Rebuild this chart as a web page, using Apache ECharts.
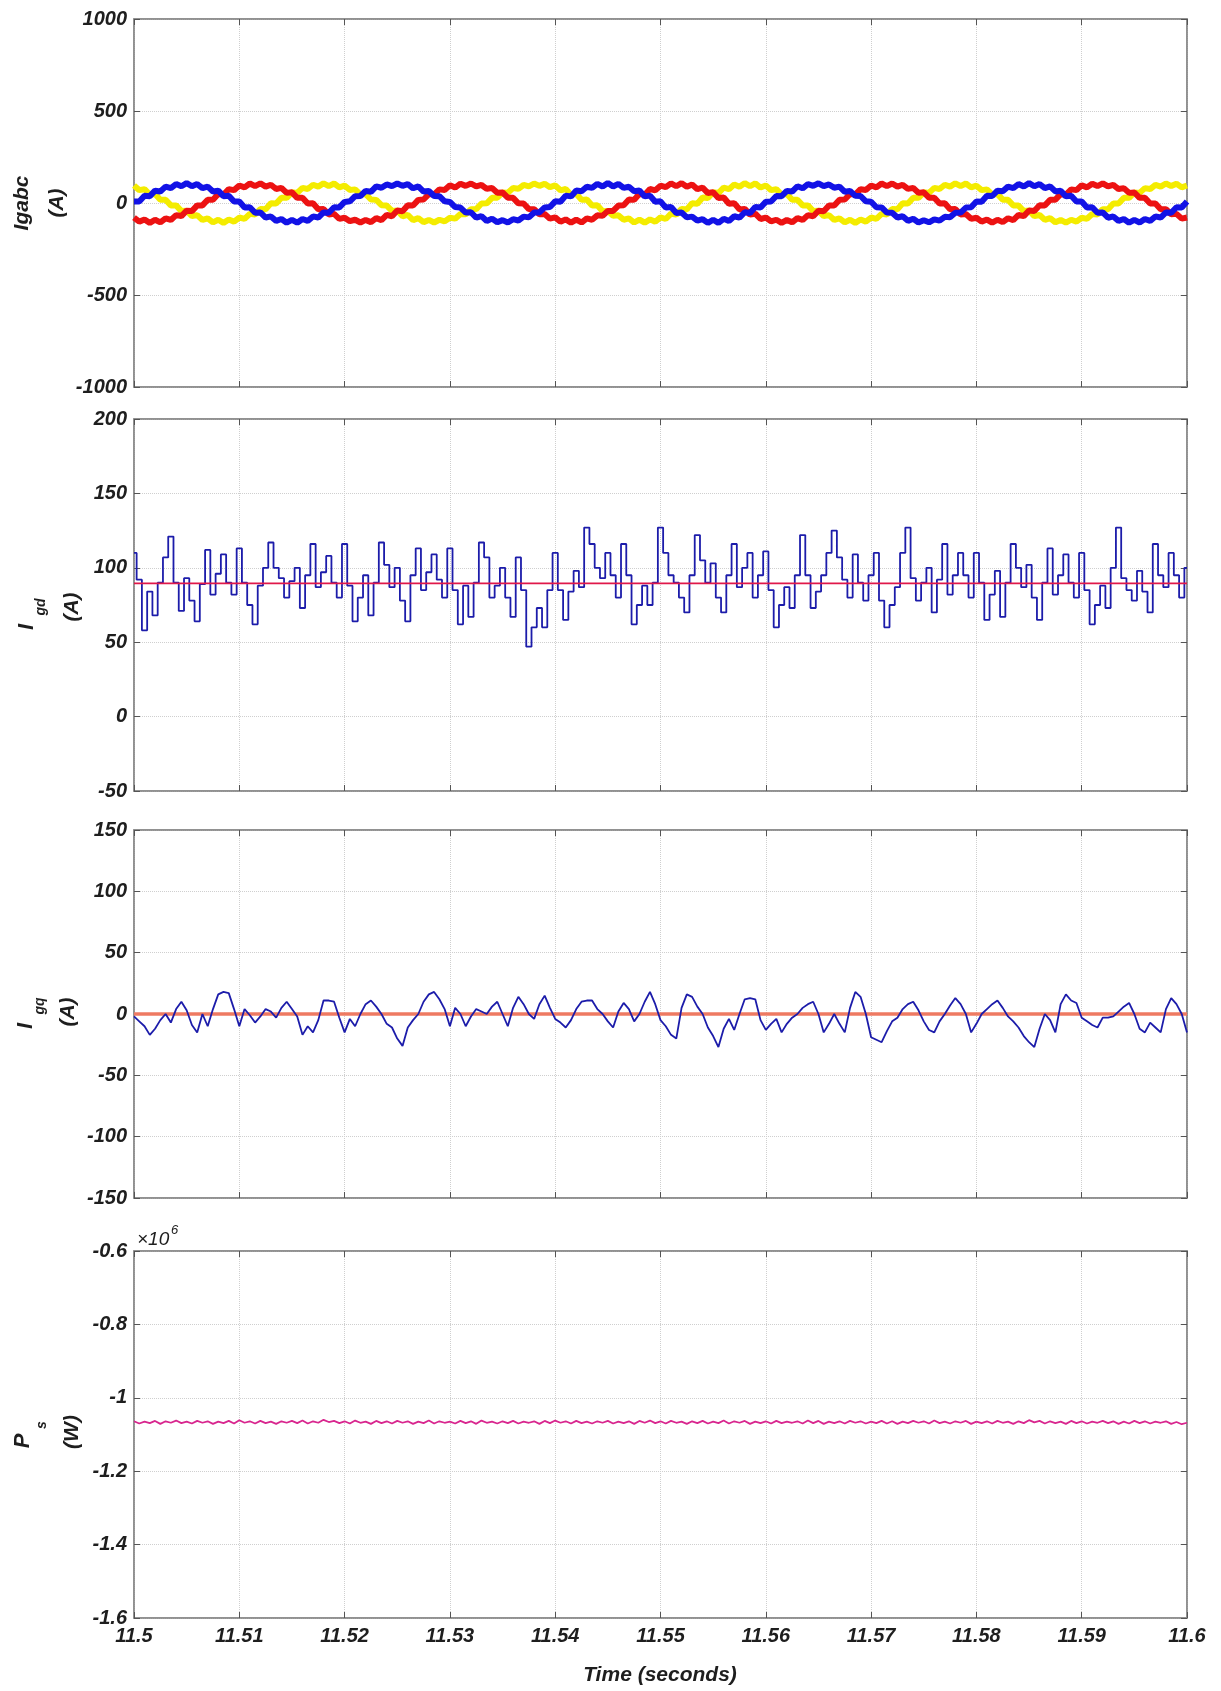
<!DOCTYPE html>
<html><head><meta charset="utf-8">
<script src="https://cdn.jsdelivr.net/npm/echarts/dist/echarts.min.js"></script>
<style>html,body{margin:0;padding:0;background:#fff}#c{width:1221px;height:1691px}</style>
</head><body><div id="c"></div>
<script>
// Time base: 11.5 s .. 11.6 s, samples every 0.5 ms (x values in ms)
const T0 = 11500, DT = 0.5;
const xTickLabels = ['11.5','11.51','11.52','11.53','11.54','11.55','11.56','11.57','11.58','11.59','11.6'];

// Panel 1: Igabc (A)
const igA = [ // red phase
-79,-101,-90,-108,-91,-105,-83,-92,-66,-71,-42,-44,-13,-13,18,18,49,46,75,70,95,85,106,92,107,89,99,76,82,55,58,28,29,-3,-2,-34,-33,-62,-59,-86,
-80,-99,-91,-106,-92,-104,-82,-93,-65,-72,-41,-45,-12,-14,17,19,48,47,74,71,96,84,105,93,106,90,98,77,81,56,57,29,28,-2,-3,-33,-34,-61,-60,-85,
-78,-102,-89,-107,-90,-106,-84,-91,-67,-70,-43,-43,-14,-12,19,17,50,45,76,69,94,86,107,91,108,88,100,75,83,54,59,27,30,-4,-1,-35,-32,-63,-58,-87,
-79,-100,-91,-108,-92,-105,-82,-92,-66,-72,-42,-45,-13,-14,18,19,49,47,75,71,95,85,106,92,106,89,99,77,82,55,58,29,29,-3,-2,-34,-33,-62,-60,-86,
-80,-101,-90,-107,-91,-104,-83,-93,-65,-71,-41,-44,-12,-13,17,18,48,46,74,70,96,85,105,92,107,90,98,76,81,55,57,28,28,-3,-3,-34,-34,-61,-59,-85,
-79];
const igB = [ // yellow phase
95,70,75,46,49,18,18,-13,-13,-44,-42,-71,-66,-92,-83,-105,-91,-108,-90,-101,-79,-86,-59,-62,-33,-34,-2,-3,29,28,58,55,82,76,99,89,107,92,106,85,
94,71,74,47,48,19,17,-12,-14,-43,-41,-72,-65,-93,-82,-104,-92,-106,-91,-100,-80,-85,-60,-61,-34,-33,-3,-2,28,29,57,56,81,77,98,90,106,93,105,86,
96,69,76,45,50,17,19,-14,-12,-45,-43,-70,-67,-91,-84,-106,-90,-107,-89,-102,-78,-87,-58,-63,-32,-35,-1,-4,30,27,59,54,83,75,100,88,108,91,107,84,
95,70,75,46,49,18,18,-13,-13,-44,-42,-71,-66,-92,-83,-105,-91,-108,-90,-101,-79,-86,-59,-62,-33,-34,-2,-3,29,28,58,55,82,76,99,89,107,92,106,85,
94,70,74,47,48,18,17,-13,-14,-44,-41,-71,-65,-92,-82,-105,-92,-107,-91,-101,-80,-86,-60,-62,-34,-34,-3,-3,28,28,57,55,81,76,98,89,106,92,105,85,
95];
const igC = [ // blue phase
8,8,39,37,67,63,89,81,103,91,108,91,103,81,89,63,67,37,39,8,8,-24,-23,-53,-51,-79,-73,-97,-87,-107,-92,-107,-87,-97,-73,-79,-51,-53,-23,-24,
6,9,37,38,66,61,90,83,101,92,106,93,102,80,90,62,65,38,37,9,6,-22,-25,-52,-50,-80,-71,-98,-85,-105,-93,-106,-88,-95,-74,-78,-52,-51,-24,-22,
9,7,40,36,68,64,88,82,104,90,109,90,104,82,88,64,68,36,40,7,9,-25,-22,-54,-52,-78,-74,-96,-88,-108,-91,-108,-86,-98,-72,-80,-50,-54,-22,-25,
7,8,38,37,66,62,91,80,102,93,107,92,101,83,89,61,66,39,38,9,7,-23,-24,-52,-53,-79,-72,-97,-86,-106,-94,-105,-89,-96,-75,-77,-53,-52,-25,-23,
8,7,39,38,67,64,89,81,103,90,108,91,103,81,90,63,67,36,39,8,8,-24,-23,-53,-51,-80,-73,-97,-87,-107,-92,-106,-87,-97,-73,-79,-51,-53,-23,-24,
8];

// Panel 2: I_gd (A)
const igd = [
110,92,58,84,68,90,107,121,90,71,93,78,64,89,112,82,96,109,90,82,
113,90,75,62,88,100,117,100,93,80,91,100,73,95,116,87,97,108,90,80,
116,88,64,80,95,68,90,117,102,87,100,78,64,95,113,85,97,109,92,80,
113,85,62,88,67,90,117,107,80,88,100,80,67,107,85,47,60,73,60,85,
110,85,65,84,98,87,127,116,100,93,110,95,80,116,95,62,75,88,75,90,
127,110,95,90,80,70,95,122,105,90,103,80,70,95,116,87,100,110,80,95,
111,85,60,75,87,73,95,122,95,73,84,95,110,125,107,92,80,109,90,78,
95,110,78,60,75,87,110,127,93,78,90,100,70,92,116,82,95,110,95,80,
110,90,65,82,98,67,90,116,100,87,102,80,65,90,113,82,95,109,90,80,
110,85,62,75,88,73,100,127,93,85,78,98,84,70,116,95,87,110,95,80,
100];
const igdRef = 89.5;

// Panel 3: I_gq (A)
const igq = [
-2,-6,-10,-17,-12,-5,0,-7,4,10,3,-9,-15,0,-10,4,16,18,17,4,
-10,4,-1,-7,-2,4,2,-3,5,10,4,-2,-17,-10,-15,-5,11,11,10,-3,
-15,-4,-10,0,8,11,6,0,-8,-11,-20,-26,-11,-5,0,10,16,18,12,4,
-10,5,0,-10,-2,4,2,0,6,10,0,-10,5,14,8,0,-4,8,15,5,
-4,-7,-11,-5,4,10,11,11,4,0,-6,-11,2,9,4,-6,0,10,18,8,
-5,-10,-17,-20,5,16,14,6,0,-11,-18,-27,-12,-4,-13,0,12,13,12,-5,
-13,-8,-4,-15,-8,-3,0,5,8,10,0,-15,-8,0,-8,-15,5,18,14,0,
-19,-21,-23,-14,-6,-3,4,8,10,3,-6,-13,-15,-6,0,7,13,8,0,-15,
-8,0,4,8,11,5,-2,-6,-11,-18,-23,-27,-12,0,-5,-15,8,16,11,9,
-3,-6,-9,-11,-3,-3,-2,2,6,9,0,-12,-15,-7,-11,-15,4,13,8,0,
-15];
const igqRef = 0;

// Panel 4: P_s (W), values in units of 10^6 W
const ps = [
-1.064,-1.070,-1.065,-1.069,-1.063,-1.071,-1.064,-1.068,-1.062,-1.069,
-1.065,-1.070,-1.063,-1.068,-1.064,-1.071,-1.065,-1.069,-1.063,-1.070,
-1.061,-1.068,-1.064,-1.070,-1.063,-1.069,-1.065,-1.071,-1.064,-1.068,
-1.063,-1.069,-1.062,-1.070,-1.064,-1.068,-1.060,-1.066,-1.063,-1.069,
-1.064,-1.070,-1.062,-1.068,-1.065,-1.071,-1.063,-1.069,-1.064,-1.070,
-1.063,-1.068,-1.064,-1.071,-1.065,-1.069,-1.062,-1.070,-1.064,-1.068,
-1.065,-1.070,-1.063,-1.069,-1.064,-1.071,-1.062,-1.068,-1.065,-1.070,
-1.064,-1.069,-1.063,-1.070,-1.065,-1.068,-1.064,-1.071,-1.063,-1.069,
-1.062,-1.068,-1.064,-1.070,-1.063,-1.069,-1.065,-1.070,-1.064,-1.068,
-1.063,-1.070,-1.065,-1.069,-1.064,-1.071,-1.063,-1.068,-1.062,-1.069,
-1.064,-1.070,-1.063,-1.068,-1.065,-1.071,-1.064,-1.069,-1.063,-1.070,
-1.065,-1.069,-1.062,-1.070,-1.064,-1.068,-1.063,-1.071,-1.065,-1.069,
-1.064,-1.070,-1.063,-1.069,-1.065,-1.068,-1.064,-1.070,-1.062,-1.069,
-1.063,-1.071,-1.065,-1.069,-1.064,-1.070,-1.063,-1.068,-1.064,-1.070,
-1.065,-1.069,-1.063,-1.070,-1.064,-1.071,-1.065,-1.069,-1.063,-1.068,
-1.064,-1.070,-1.062,-1.069,-1.065,-1.070,-1.064,-1.068,-1.063,-1.071,
-1.065,-1.069,-1.064,-1.070,-1.063,-1.068,-1.065,-1.071,-1.064,-1.069,
-1.061,-1.067,-1.063,-1.070,-1.064,-1.069,-1.065,-1.071,-1.063,-1.069,
-1.064,-1.070,-1.065,-1.068,-1.063,-1.069,-1.064,-1.071,-1.065,-1.070,
-1.063,-1.069,-1.064,-1.070,-1.065,-1.068,-1.064,-1.071,-1.066,-1.072,
-1.068];

// Y axis ranges [min, max, interval]
const yRanges = [[-1000,1000,500],[-50,200,50],[-150,150,50],[-1.6,-0.6,0.2]];

const FONT = '"Liberation Sans", Arial, Helvetica, sans-serif';
const TXT = '#1e1e1e';
const FRAME = '#8a8a8a';
const pts = arr => arr.map((v,i)=>[T0 + i*DT, v]);
const refLine = v => [[T0, v],[T0 + (igd.length-1)*DT, v]];

const gridDefs = [{top:19,height:368},{top:419,height:372},{top:830,height:368},{top:1251,height:367}];
const grid = gridDefs.map(g=>({left:134,right:34,top:g.top,height:g.height,show:true,borderColor:FRAME,borderWidth:1.5,backgroundColor:'#fff'}));

const lblStyle = {fontSize:20,fontWeight:'bold',fontStyle:'italic',fontFamily:FONT,color:TXT};
const xAxis = [], yAxis = [];
gridDefs.forEach((g,gi)=>{
  const base = {type:'value',gridIndex:gi,min:T0,max:11600,interval:10,
    axisLine:{show:true,onZero:false,lineStyle:{color:FRAME,width:1.5}},
    axisTick:{show:true,inside:true,length:6,lineStyle:{color:'#555',width:1}}};
  xAxis.push(Object.assign({},base,{position:'bottom',
    axisLabel:{show:gi===3,margin:8,...lblStyle,formatter:v=>xTickLabels[Math.round((v-T0)/10)]},
    splitLine:{show:true,lineStyle:{type:'dotted',color:'#cfcfcf',width:1}}}));
  xAxis.push(Object.assign({},base,{position:'top',axisLabel:{show:false},splitLine:{show:false}}));
  const r = yRanges[gi];
  const ybase = {type:'value',gridIndex:gi,min:r[0],max:r[1],interval:r[2],
    axisLine:{show:true,onZero:false,lineStyle:{color:FRAME,width:1.5}},
    axisTick:{show:true,inside:true,length:6,lineStyle:{color:'#555',width:1}}};
  yAxis.push(Object.assign({},ybase,{position:'left',
    axisLabel:{show:true,margin:7,...lblStyle,formatter:v=>String(+Number(v).toFixed(2))},
    splitLine:{show:true,lineStyle:{type:'dotted',color:'#cfcfcf',width:1}}}));
  yAxis.push(Object.assign({},ybase,{position:'right',axisLabel:{show:false},splitLine:{show:false}}));
});

const line = (gi,data,color,width,extra) => Object.assign({type:'line',xAxisIndex:2*gi,yAxisIndex:2*gi,data,
  showSymbol:false,symbol:'none',lineStyle:{color,width},itemStyle:{color},silent:true,animation:false},extra||{});

const series = [
  line(0,pts(igB),'#f4ec00',6),
  line(0,pts(igA),'#ec1212',6),
  line(0,pts(igC),'#1212e6',6),
  line(1,pts(igd),'#1c1caa',1.8,{step:'middle'}),
  line(1,refLine(igdRef),'#e0184a',1.6),
  line(2,refLine(igqRef),'#ee7a62',3.5),
  line(2,pts(igq),'#1c1caa',1.8),
  line(3,pts(ps),'#d8268e',1.8)
];

const vt = (x,y,text,size,weight) => ({type:'text',x,y,rotation:Math.PI/2,silent:true,
  style:{text,fill:TXT,font:`italic ${weight} ${size}px ${FONT}`,align:'center',verticalAlign:'middle',textAlign:'center',textVerticalAlign:'middle'}});
const ht = (x,y,text,size,weight,align) => ({type:'text',x,y,silent:true,
  style:{text,fill:TXT,font:`italic ${weight} ${size}px ${FONT}`,align:align||'center',verticalAlign:'middle',textAlign:align||'center',textVerticalAlign:'middle'}});

const graphic = [
  vt(22,203,'Igabc',21,'bold'), vt(57,203,'(A)',21,'bold'),
  vt(27,627,'I',22,'bold'), vt(41,607,'gd',14,'bold'), vt(72,607,'(A)',21,'bold'),
  vt(26,1026,'I',22,'bold'), vt(40,1006,'gq',14,'bold'), vt(68,1012,'(A)',21,'bold'),
  vt(23,1441,'P',22,'bold'), vt(42,1425,'s',14,'bold'), vt(72,1432,'(W)',21,'bold'),
  ht(660,1675,'Time (seconds)',21,'bold'),
  ht(137,1240,'\u00d710',19,'normal','left'), ht(171,1230,'6',13,'normal','left')
];

const chart = echarts.init(document.getElementById('c'),null,{renderer:'canvas'});
chart.setOption({animation:false,backgroundColor:'#fff',grid,xAxis,yAxis,series,graphic});
</script></body></html>
